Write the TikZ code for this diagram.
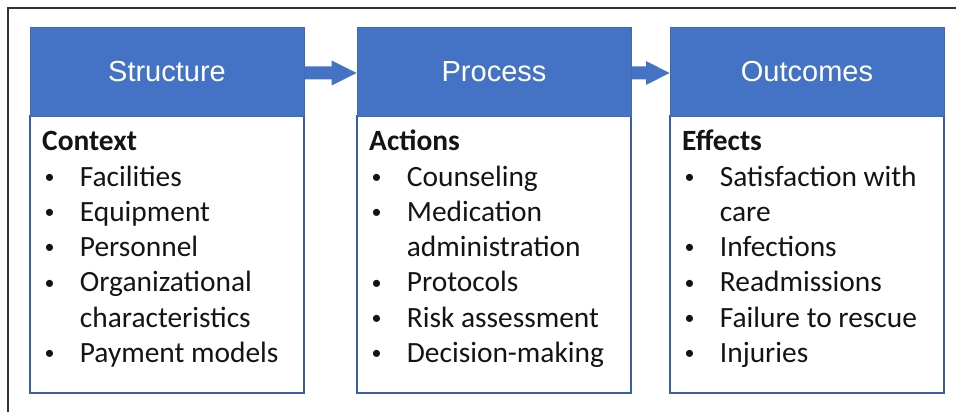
\documentclass[tikz,border=0pt]{standalone}
\usepackage{fontspec}
\setmainfont{Carlito}
\newfontfamily\hdrfont{Liberation Sans}
\usetikzlibrary{calc}
\definecolor{hdrblue}{HTML}{4472C4}
\definecolor{hdredge}{HTML}{3E69B8}
\definecolor{boxedge}{HTML}{3A5DA8}
\definecolor{frame}{HTML}{333333}
\newcommand{\bl}{\hspace*{2.5pt}\makebox[35.2pt][l]{\raisebox{2.8pt}{\fontsize{20}{20}\selectfont\textbullet}}}
\newcommand{\ind}{\hspace*{37.7pt}}
\tikzset{
  hdr/.style={rectangle, fill=hdrblue, draw=hdredge, line width=1pt, minimum width=274pt, minimum height=88pt, inner sep=0pt, text=white, font=\hdrfont\fontsize{29}{34}\selectfont},
  bodybox/.style={rectangle, fill=white, draw=boxedge, line width=1.6pt, minimum width=274pt, minimum height=277pt, inner sep=0pt},
  bodytext/.style={anchor=base west, inner sep=0pt, text=black!92},
  blockarrow/.style={fill=hdrblue}
}
\begin{document}
\begin{tikzpicture}[x=1pt,y=-1pt]
\fill[white] (0,0) rectangle (956,412);
\useasboundingbox (0,0) rectangle (956,412);
\draw[frame, line width=1.2pt] (8,412) -- (8,8) -- (956,8);
% body boxes
\node[bodybox] (b1) at (167,254.5) {};
\node[bodybox] (b2) at (494,254.5) {};
\node[bodybox] (b3) at (807,254.5) {};
% headers
\node[hdr] (h1) at (167,72) {Structure};
\node[hdr] (h2) at (494,72) {Process};
\node[hdr] (h3) at (807,72) {Outcomes};
% arrows
\fill[blockarrow] ([yshift=5.5pt]h1.east) -- ([xshift=-25pt,yshift=5.5pt]h2.west) -- ([xshift=-25pt,yshift=11.5pt]h2.west) -- ([yshift=-1pt]h2.west) -- ([xshift=-25pt,yshift=-13.5pt]h2.west) -- ([xshift=-25pt,yshift=-7.5pt]h2.west) -- ([yshift=-7.5pt]h1.east) -- cycle;
\fill[blockarrow] ([yshift=5.5pt]h2.east) -- ([xshift=-23.5pt,yshift=5.5pt]h3.west) -- ([xshift=-23.5pt,yshift=11pt]h3.west) -- ([yshift=-1pt]h3.west) -- ([xshift=-23.5pt,yshift=-13pt]h3.west) -- ([xshift=-23.5pt,yshift=-7.5pt]h3.west) -- ([yshift=-7.5pt]h2.east) -- cycle;
% texts
\node[bodytext] (t1) at (42,150.7) {\parbox[t]{258pt}{\raggedright\fontsize{29.4}{35.3}\selectfont
\textbf{Context}\\
\bl Facilities\\
\bl Equipment\\
\bl Personnel\\
\bl Organizational\\
\ind characteristics\\
\bl Payment models}};
\node[bodytext] (t2) at (369,150.7) {\parbox[t]{258pt}{\raggedright\fontsize{29.4}{35.3}\selectfont
\textbf{Actions}\\
\bl Counseling\\
\bl Medication\\
\ind administration\\
\bl Protocols\\
\bl Risk assessment\\
\bl Decision-making}};
\node[bodytext] (t3) at (682,150.7) {\parbox[t]{258pt}{\raggedright\fontsize{29.4}{35.3}\selectfont
\textbf{Effects}\\
\bl Satisfaction with\\
\ind care\\
\bl Infections\\
\bl Readmissions\\
\bl Failure to rescue\\
\bl Injuries}};
\end{tikzpicture}
\end{document}
